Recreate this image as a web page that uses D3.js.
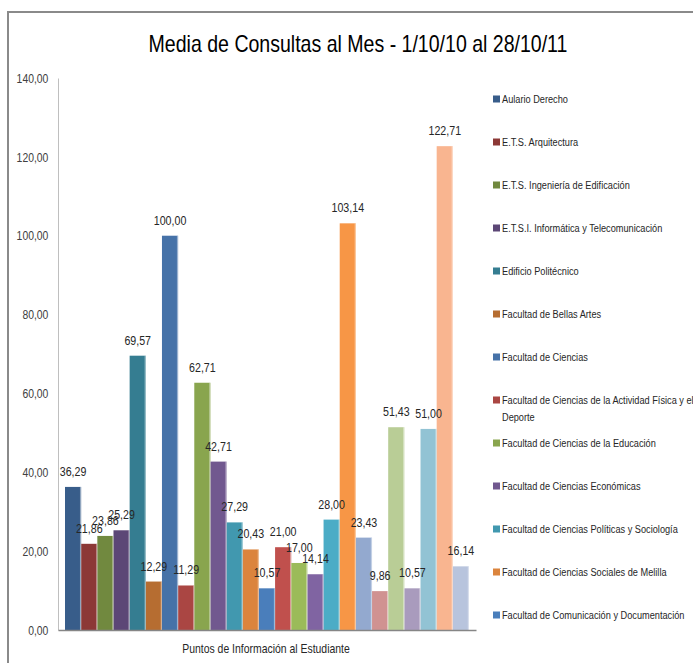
<!DOCTYPE html>
<html>
<head>
<meta charset="utf-8">
<script src="https://cdn.jsdelivr.net/npm/d3@7"></script>
<style>
  html, body { margin: 0; padding: 0; background: #ffffff; }
  svg { display: block; }
</style>
</head>
<body>
<svg id="chart" width="693" height="663"></svg>
<script>
// ---------- data ----------
const chartTitle = "Media de Consultas al Mes - 1/10/10 al 28/10/11";
const categoryLabel = "Puntos de Información al Estudiante";

const seriesNames = [
  "Aulario Derecho",
  "E.T.S. Arquitectura",
  "E.T.S. Ingeniería de Edificación",
  "E.T.S.I. Informática y Telecomunicación",
  "Edificio Politécnico",
  "Facultad de Bellas Artes",
  "Facultad de Ciencias",
  "Facultad de Ciencias de la Actividad Física y el Deporte",
  "Facultad de Ciencias de la Educación",
  "Facultad de Ciencias Económicas",
  "Facultad de Ciencias Políticas y Sociología",
  "Facultad de Ciencias Sociales de Melilla",
  "Facultad de Comunicación y Documentación",
  "Serie 14", "Serie 15", "Serie 16", "Serie 17", "Serie 18",
  "Serie 19", "Serie 20", "Serie 21", "Serie 22", "Serie 23",
  "Serie 24", "Serie 25"
];

const seriesValues = [
  36.29, 21.86, 23.86, 25.29, 69.57, 12.29,
  100.00, 11.29, 62.71, 42.71, 27.29, 20.43,
  10.57, 21.00, 17.00, 14.14, 28.00, 103.14,
  23.43, 9.86, 51.43, 10.57, 51.00, 122.71,
  16.14
];

const seriesColors = [
  "#385d8a", "#8c3836", "#71893f", "#5c4776", "#357d91", "#b66d31",
  "#4672a8", "#aa4643", "#89a54e", "#71588f", "#4198af", "#db843d",
  "#4a7ebb", "#c0504d", "#9bbb59", "#8064a2", "#4bacc6", "#f79646",
  "#93a9cf", "#d09291", "#b9cd96", "#a99bbd", "#92c3d4", "#f9b590",
  "#b8c4dd"
];

const legendCount = 13; // only the first 13 entries are visible in the legend
const yTicks = [0, 20, 40, 60, 80, 100, 120, 140];

// ---------- layout ----------
const svg = d3.select("#chart");
const FONT = "'Liberation Sans', Arial, sans-serif";
const fmt = v => d3.format(".2f")(v).replace(".", ",");

const plot = { left: 58, right: 476, top: 78, bottom: 630 };

// horizontally condensed text helper (mimics a narrow Calibri-like face)
function addText(parent, x, y, str, size, sx, anchor, fill) {
  return parent.append("text")
    .attr("transform", `translate(${x},${y}) scale(${sx},1)`)
    .attr("x", 0).attr("y", 0)
    .attr("text-anchor", anchor || "start")
    .attr("font-family", FONT)
    .attr("font-size", size)
    .attr("fill", fill || "#262626")
    .text(str);
}

// chart frame (left and top edges visible)
svg.append("path")
  .attr("d", "M8,663 L8,12 L693,12")
  .attr("fill", "none")
  .attr("stroke", "#8a8a8a")
  .attr("stroke-width", 2);

// title
addText(svg, 358, 52, chartTitle, 23, 0.85, "middle", "#000");

const y = d3.scaleLinear().domain([0, 140]).range([plot.bottom, plot.top]);
const x = d3.scaleBand()
  .domain(seriesNames)
  .range([65, 469])
  .padding(0);

// y axis
const yAxis = d3.axisLeft(y)
  .tickValues(yTicks)
  .tickFormat(fmt)
  .tickSize(0)
  .tickPadding(12);

const yg = svg.append("g")
  .attr("transform", `translate(${plot.left},0)`)
  .call(yAxis);
yg.select(".domain").attr("stroke", "#bfbfbf").attr("stroke-width", 1);
yg.selectAll(".tick text")
  .attr("font-family", FONT)
  .attr("font-size", 13)
  .attr("fill", "#404040")
  .attr("transform", "scale(0.8,1)");

// bars
svg.append("g").selectAll("rect")
  .data(seriesValues)
  .join("rect")
  .attr("x", (d, i) => x(seriesNames[i]))
  .attr("y", d => y(d))
  .attr("width", x.bandwidth())
  .attr("height", d => y(0) - y(d))
  .attr("fill", (d, i) => seriesColors[i]);

// subtle light edge on right side of each bar
svg.append("g").selectAll("rect")
  .data(seriesValues)
  .join("rect")
  .attr("x", (d, i) => x(seriesNames[i]) + x.bandwidth() - 1.2)
  .attr("y", d => y(d))
  .attr("width", 1.2)
  .attr("height", d => y(0) - y(d))
  .attr("fill", "#ffffff")
  .attr("opacity", 0.45);

// x axis line
const xAxisScale = d3.scaleLinear().range([plot.left, plot.right]);
const xg = svg.append("g")
  .attr("transform", `translate(0,${plot.bottom})`)
  .call(d3.axisBottom(xAxisScale).tickValues([]).tickSize(0));
xg.select(".domain").attr("stroke", "#868686").attr("stroke-width", 1.5);

// data labels
const labelG = svg.append("g");
seriesValues.forEach((d, i) => {
  addText(labelG, x(seriesNames[i]) + x.bandwidth() / 2, y(d) - 11, fmt(d), 13, 0.82, "middle", "#262626");
});

// category label
addText(svg, 266, 653, categoryLabel, 12, 0.87, "middle", "#262626");

// legend
const legend = svg.append("g");
const legendItems = seriesNames.slice(0, legendCount);
const LSX = 0.8;
const maxLegendWidth = 192 / LSX;
legendItems.forEach((name, i) => {
  const cy = 99 + i * 43;
  legend.append("rect")
    .attr("x", 493).attr("y", cy - 3.5)
    .attr("width", 7).attr("height", 7)
    .attr("fill", seriesColors[i]);
  const t = legend.append("text")
    .attr("transform", `translate(502,${cy + 4}) scale(${LSX},1)`)
    .attr("x", 0).attr("y", 0)
    .attr("font-family", FONT)
    .attr("font-size", 11.5)
    .attr("fill", "#262626");
  const words = name.split(" ");
  let line = [];
  let tspan = t.append("tspan").attr("x", 0).attr("dy", 0);
  words.forEach(w => {
    line.push(w);
    tspan.text(line.join(" "));
    if (tspan.node().getComputedTextLength() > maxLegendWidth && line.length > 1) {
      line.pop();
      tspan.text(line.join(" "));
      line = [w];
      tspan = t.append("tspan").attr("x", 0).attr("dy", 17).text(w);
    }
  });
});
</script>
</body>
</html>
